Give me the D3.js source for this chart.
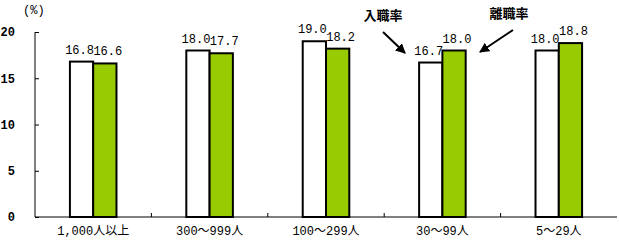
<!DOCTYPE html>
<html>
<head>
<meta charset="utf-8">
<script src="https://cdn.jsdelivr.net/npm/d3@7"></script>
<style>
  body { margin: 0; background: #fff; }
  text { font-family: "Liberation Mono", "Noto Sans CJK JP", monospace; }
</style>
</head>
<body>
<script>
var categories = ["1,000人以上", "300～999人", "100～299人", "30～99人", "5～29人"];
var series = ["入職率", "離職率"];
var hireRate = [16.8, 18.0, 19.0, 16.7, 18.0];
var leaveRate = [16.6, 17.7, 18.2, 18.0, 18.8];
var yTicks = [0, 5, 10, 15, 20];

var width = 619, height = 240;
var plotLeft = 35, plotRight = 617, plotTop = 32, plotBottom = 217;

var svg = d3.select("body").append("svg")
  .attr("width", width)
  .attr("height", height);

var x = d3.scaleBand().domain(categories).range([plotLeft, plotRight]).paddingInner(0);
var inner = d3.scaleBand().domain(series).range([x.bandwidth() * 0.3, x.bandwidth() * 0.7]);
var y = d3.scaleLinear().domain([0, 20]).range([plotBottom, plotTop]);

var rows = categories.map(function(c, i) {
  return { cat: c, vals: [ { s: series[0], v: hireRate[i] }, { s: series[1], v: leaveRate[i] } ] };
});

// bars
var groups = svg.selectAll("g.cat")
  .data(rows)
  .enter().append("g")
  .attr("class", "cat")
  .attr("transform", function(d) { return "translate(" + x(d.cat) + ",0)"; });

groups.selectAll("rect")
  .data(function(d) { return d.vals; })
  .enter().append("rect")
  .attr("x", function(d) { return inner(d.s); })
  .attr("y", function(d) { return y(d.v); })
  .attr("width", inner.bandwidth())
  .attr("height", function(d) { return y(0) - y(d.v); })
  .attr("fill", function(d) { return d.s === series[0] ? "#fff" : "#99cc00"; })
  .attr("stroke", "#000")
  .attr("stroke-width", 2);

groups.selectAll("text.val")
  .data(function(d) { return d.vals; })
  .enter().append("text")
  .attr("class", "val")
  .attr("x", function(d) { return inner(d.s) + inner.bandwidth() / 2 + (d.s === series[0] ? -2 : 3); })
  .attr("y", function(d) { return y(d.v) - 8; })
  .attr("text-anchor", "middle")
  .attr("font-size", 12)
  .text(function(d) { return d.v.toFixed(1); });

// axes
var yAxis = d3.axisLeft(y).tickValues(yTicks).tickSize(-4).tickPadding(24);
var gy = svg.append("g").attr("transform", "translate(" + plotLeft + ",0)").call(yAxis);
gy.select(".domain").attr("d", "M0," + plotTop + "V" + plotBottom).attr("stroke", "#000");
gy.selectAll(".tick line").attr("stroke", "#000");
gy.selectAll(".tick text").attr("font-size", 12).attr("fill", "#000")
  .attr("font-family", "Liberation Mono").attr("font-weight", "bold").attr("x", -20);

var xAxis = d3.axisBottom(x).tickSize(0).tickPadding(9);
var gx = svg.append("g").attr("transform", "translate(0," + plotBottom + ")").call(xAxis);
gx.select(".domain").attr("d", "M" + plotLeft + ",0H" + plotRight).attr("stroke", "#000");
gx.selectAll(".tick text").attr("font-size", 12).attr("fill", "#000")
  .attr("font-family", "Liberation Mono, Noto Sans CJK JP");

// category dividers
svg.selectAll("line.div")
  .data(categories.slice(1))
  .enter().append("line")
  .attr("class", "div")
  .attr("x1", function(d) { return x(d); })
  .attr("x2", function(d) { return x(d); })
  .attr("y1", plotBottom)
  .attr("y2", plotBottom - 4)
  .attr("stroke", "#000");

svg.append("text")
  .attr("x", 23).attr("y", 14)
  .attr("font-size", 12)
  .text("(%)");

// annotations
var defs = svg.append("defs");
defs.append("marker")
  .attr("id", "ah")
  .attr("viewBox", "0 0 10 10")
  .attr("refX", 9).attr("refY", 5)
  .attr("markerWidth", 5).attr("markerHeight", 5)
  .attr("orient", "auto")
  .append("path").attr("d", "M0,0L10,5L0,10Z").attr("fill", "#000");

var notes = [
  { label: series[0], tx: 383, ty: 20, x1: 383, y1: 32, x2: 405, y2: 53 },
  { label: series[1], tx: 509, ty: 18, x1: 513, y1: 30, x2: 480, y2: 52 }
];
svg.selectAll("text.note")
  .data(notes)
  .enter().append("text")
  .attr("class", "note")
  .attr("x", function(d) { return d.tx; })
  .attr("y", function(d) { return d.ty; })
  .attr("text-anchor", "middle")
  .attr("font-family", "Noto Sans CJK JP")
  .attr("font-weight", "bold")
  .attr("font-size", 13)
  .text(function(d) { return d.label; });

svg.selectAll("line.arrow")
  .data(notes)
  .enter().append("line")
  .attr("class", "arrow")
  .attr("x1", function(d) { return d.x1; })
  .attr("y1", function(d) { return d.y1; })
  .attr("x2", function(d) { return d.x2; })
  .attr("y2", function(d) { return d.y2; })
  .attr("stroke", "#000")
  .attr("stroke-width", 2)
  .attr("marker-end", "url(#ah)");
</script>
</body>
</html>
